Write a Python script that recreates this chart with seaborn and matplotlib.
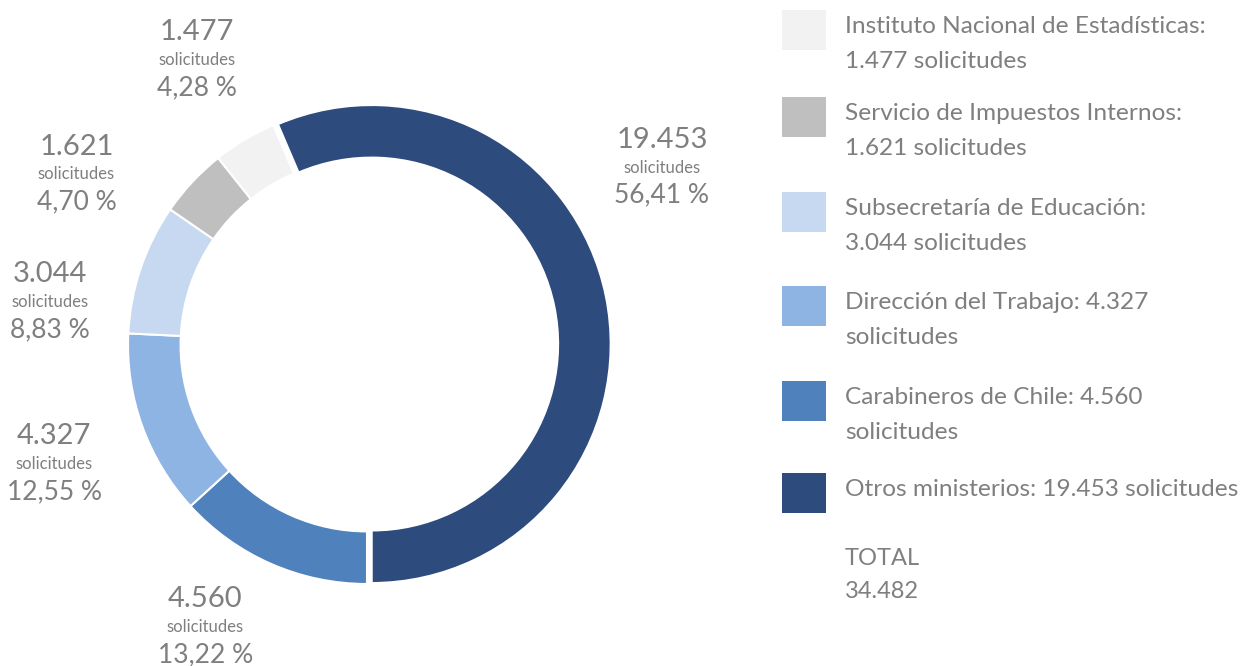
import matplotlib
matplotlib.use("Agg")
import matplotlib.pyplot as plt
from matplotlib.patches import Rectangle
import numpy as np
import seaborn as sns


sns.set_theme(style="white")
plt.rcParams["font.family"] = ["Lato", "DejaVu Sans"]

# data, in the order of the legend
entities = [
    "Instituto Nacional de Estadísticas",
    "Servicio de Impuestos Internos",
    "Subsecretaría de Educación",
    "Dirección del Trabajo",
    "Carabineros de Chile",
    "Otros ministerios",
]
requests = [1477, 1621, 3044, 4327, 4560, 19453]
legend_labels = [
    "Instituto Nacional de Estadísticas:\n1.477 solicitudes",
    "Servicio de Impuestos Internos:\n1.621 solicitudes",
    "Subsecretaría de Educación:\n3.044 solicitudes",
    "Dirección del Trabajo: 4.327\nsolicitudes",
    "Carabineros de Chile: 4.560\nsolicitudes",
    "Otros ministerios: 19.453 solicitudes",
]
colors = sns.color_palette(
    ["#F2F2F2", "#BFBFBF", "#C6D9F1", "#8EB4E3", "#4F81BD", "#2E4B7E"]
)

TEXT = "#7F7F7F"
W, H = 1246, 666

# drawing order of the ring: clockwise from the bottom
pie_order = [4, 3, 2, 1, 0, 5]
# label nudges (degrees, radius) so they do not collide
label_nudge = {4: (-6, 1.36), 3: (1, 1.40), 2: (11, 1.34),
               1: (12.6, 1.41), 0: (0, 1.39), 5: (19.5, 1.44)}


def fmt_int(n):
    return f"{n:,}".replace(",", ".")


def fmt_pct(p):
    return f"{p:.2f}".replace(".", ",") + " %"


total = sum(requests)

fig = plt.figure(figsize=(W / 100, H / 100), dpi=100)

# donut
cx, cy, r_px = 367, 345, 239
span = 1.3 * r_px
ax = fig.add_axes([(cx - span) / W, (H - cy - span) / H, 2 * span / W, 2 * span / H])
wedges, _ = ax.pie(
    [requests[i] for i in pie_order],
    colors=[colors[i] for i in pie_order],
    startangle=270,
    counterclock=False,
    radius=1,
    explode=[0.02 if i == 5 else 0 for i in pie_order],
    wedgeprops=dict(width=0.22, edgecolor="white", linewidth=1.5),
)
ax.set_xlim(-1.3, 1.3)
ax.set_ylim(-1.3, 1.3)
ax.axis("off")

for w, i in zip(wedges, pie_order):
    mid = (w.theta1 + w.theta2) / 2
    d_ang, rad = label_nudge[i]
    a = np.deg2rad(mid + d_ang)
    x, y = rad * np.cos(a), rad * np.sin(a)
    ax.text(x, y, "solicitudes", ha="center", va="center", fontsize=12, color=TEXT)
    ax.annotate(fmt_int(requests[i]), (x, y), xytext=(0, 20), textcoords="offset points",
                ha="center", va="center", fontsize=21, color=TEXT, annotation_clip=False)
    ax.annotate(fmt_pct(requests[i] / total * 100), (x, y), xytext=(0, -20),
                textcoords="offset points", ha="center", va="center", fontsize=19,
                color=TEXT, annotation_clip=False)

# legend
lax = fig.add_axes([0, 0, 1, 1], zorder=-1)
lax.set_xlim(0, W)
lax.set_ylim(H, 0)
lax.axis("off")

entry_y = [30, 117, 212, 306, 401, 493]
for k, lab in enumerate(legend_labels):
    yc = entry_y[k]
    lax.add_patch(Rectangle((782, yc - 20), 44, 40, facecolor=colors[k], edgecolor="none"))
    for j, line in enumerate(lab.split("\n")):
        lax.text(845, yc + 3 + j * 35, line, ha="left", va="baseline",
                 fontsize=17.6, color=TEXT)

yt = entry_y[-1] + 72
lax.text(845, yt, "TOTAL", ha="left", va="baseline", fontsize=17, color=TEXT)
lax.text(845, yt + 33, fmt_int(total), ha="left", va="baseline", fontsize=17, color=TEXT)

fig.savefig("out.png", dpi=100)
